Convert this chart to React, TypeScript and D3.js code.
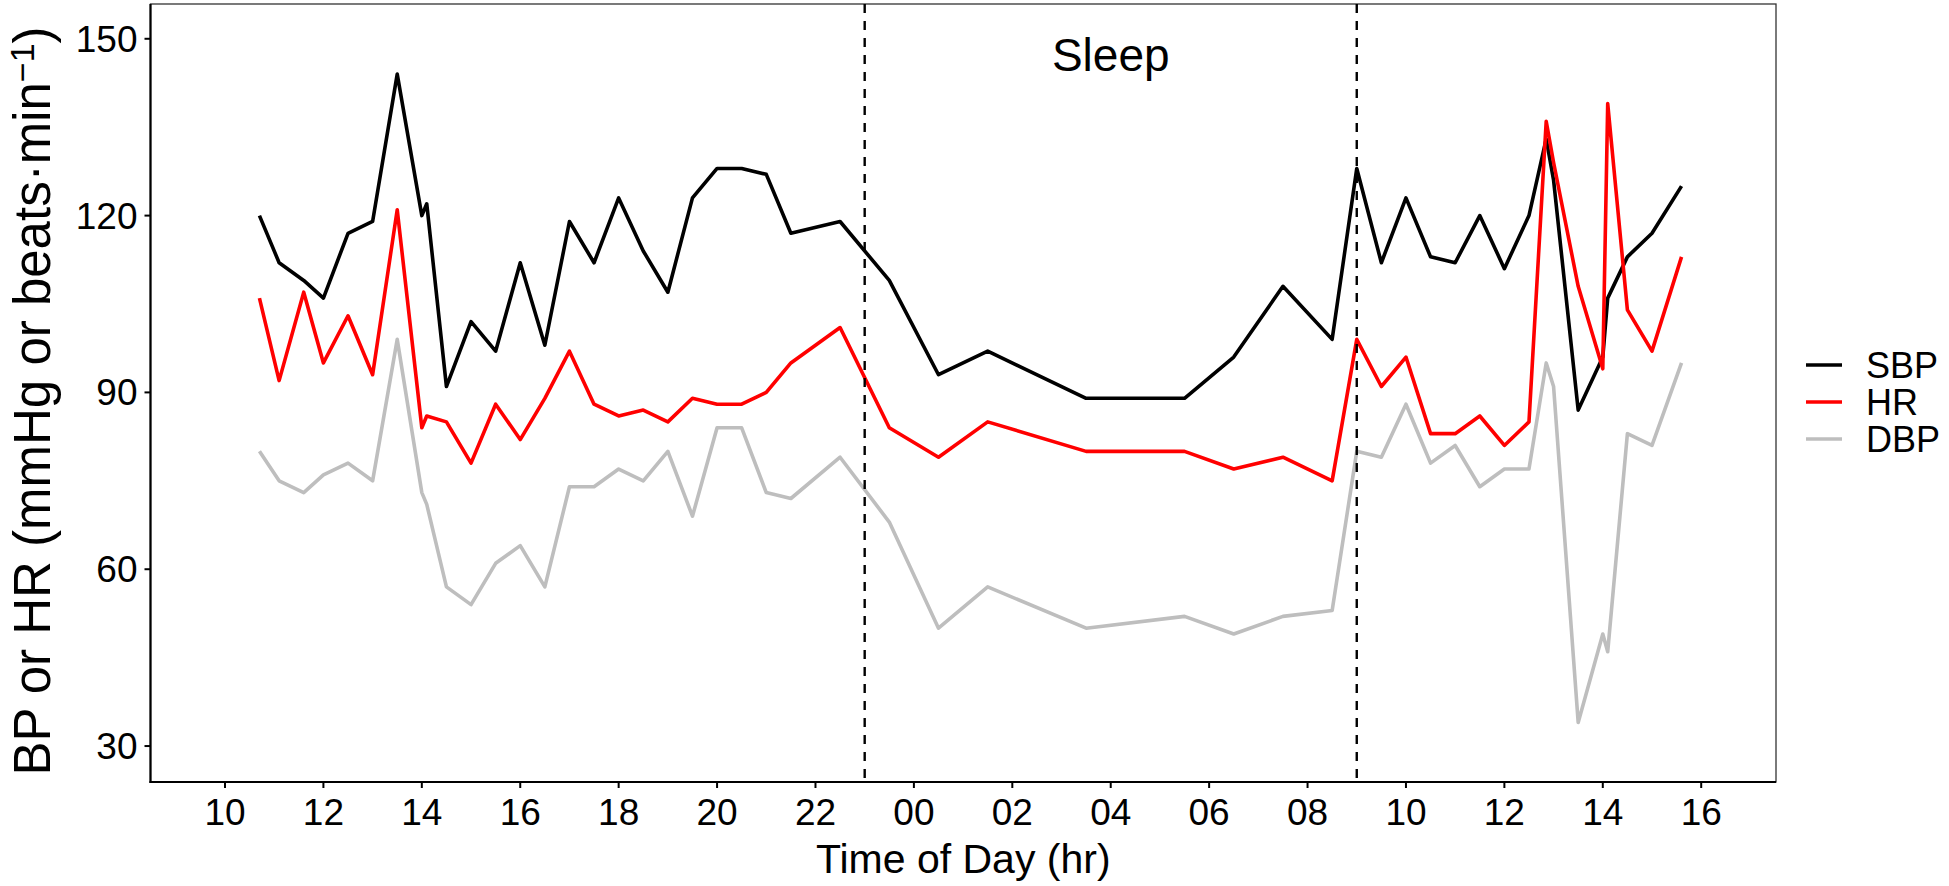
import React from 'react'
import * as d3 from 'd3'

// hours since midnight of day 1 (24+ = next day)
const times = [
  10.7, 11.1, 11.6, 12.0, 12.5, 13.0, 13.5, 14.0, 14.1, 14.5, 15.0, 15.5, 16.0, 16.5, 17.0, 17.5,
  18.0, 18.5, 19.0, 19.5, 20.0, 20.5, 21.0, 21.5, 22.5, 23.5, 24.5, 25.5, 27.5, 29.5, 30.5, 31.5,
  32.5, 33.0, 33.5, 34.0, 34.5, 35.0, 35.5, 36.0, 36.5, 36.85, 37.0, 37.5, 38.0, 38.1, 38.5, 39.0,
  39.6,
]
const sbp = [
  120, 112, 109, 106, 117, 119, 144, 120, 122, 91, 102, 97, 112, 98, 119, 112,
  123, 114, 107, 123, 128, 128, 127, 117, 119, 109, 93, 97, 89, 89, 96, 108,
  99, 128, 112, 123, 113, 112, 120, 111, 120, 133, 126, 87, 96, 106, 113, 117,
  125,
]
const hr = [
  106, 92, 107, 95, 103, 93, 121, 84, 86, 85, 78, 88, 82, 89, 97, 88,
  86, 87, 85, 89, 88, 88, 90, 95, 101, 84, 79, 85, 80, 80, 77, 79,
  75, 99, 91, 96, 83, 83, 86, 81, 85, 136, 129, 108, 94, 139, 104, 97,
  113,
]
const dbp = [
  80, 75, 73, 76, 78, 75, 99, 73, 71, 57, 54, 61, 64, 57, 74, 74,
  77, 75, 80, 69, 84, 84, 73, 72, 79, 68, 50, 57, 50, 52, 49, 52,
  53, 80, 79, 88, 78, 81, 74, 77, 77, 95, 91, 34, 49, 46, 83, 81,
  95,
]

const seriesNames = ['SBP', 'HR', 'DBP']
const seriesColors = ['#000000', '#ff0000', '#bebebe']
const seriesValues = [sbp, hr, dbp]

const xTicks = [10, 12, 14, 16, 18, 20, 22, 24, 26, 28, 30, 32, 34, 36, 38, 40]
const xTickLabels = ['10', '12', '14', '16', '18', '20', '22', '00', '02', '04', '06', '08', '10', '12', '14', '16']
const yTicks = [30, 60, 90, 120, 150]
const sleepBounds = [23, 33]

const W = 1949
const H = 886
const left = 150.5
const right = 1776
const top = 4
const bottom = 782
const font = '"Liberation Sans", Arial, sans-serif'

export default function App() {
  const x = d3.scaleLinear().domain([8.486, 41.52]).range([left, right])
  const y = d3.scaleLinear().domain([23.9, 155.9]).range([bottom, top])

  const line = d3
    .line<number>()
    .x((_, i) => x(times[i]))
    .y(d => y(d))

  return (
    <svg
      width={W}
      height={H}
      style={{ position: 'absolute', left: 0, top: 0, background: '#fff' }}
      fontFamily={font}
    >
      <rect x={left} y={top} width={right - left} height={bottom - top} fill="#fff" stroke="#333" strokeWidth={1.3} />

      {seriesValues.map((vals, k) => (
        <path
          key={seriesNames[k]}
          d={line(vals) ?? ''}
          fill="none"
          stroke={seriesColors[k]}
          strokeWidth={3.6}
          strokeLinejoin="round"
        />
      ))}

      {sleepBounds.map(h => (
        <line
          key={h}
          x1={x(h)}
          x2={x(h)}
          y1={top}
          y2={bottom}
          stroke="#000"
          strokeWidth={2.4}
          strokeDasharray="9 8"
        />
      ))}

      <text x={x(28)} y={y(144.6)} fontSize={46} textAnchor="middle" fill="#000">
        Sleep
      </text>

      {/* axes */}
      <line x1={left} x2={left} y1={top} y2={bottom + 1} stroke="#000" strokeWidth={2.2} />
      <line x1={left - 1} x2={right} y1={bottom} y2={bottom} stroke="#000" strokeWidth={2.2} />

      {yTicks.map(t => (
        <g key={t}>
          <line x1={left - 6} x2={left} y1={y(t)} y2={y(t)} stroke="#000" strokeWidth={2} />
          <text x={left - 13} y={y(t)} dy="0.35em" fontSize={37} textAnchor="end" fill="#000">
            {t}
          </text>
        </g>
      ))}

      {xTicks.map((t, i) => (
        <g key={t}>
          <line x1={x(t)} x2={x(t)} y1={bottom} y2={bottom + 6} stroke="#000" strokeWidth={2} />
          <text x={x(t)} y={825} fontSize={37} textAnchor="middle" fill="#000">
            {xTickLabels[i]}
          </text>
        </g>
      ))}

      <text x={(left + right) / 2} y={873} fontSize={41} textAnchor="middle" fill="#000">
        Time of Day (hr)
      </text>

      <text
        transform="translate(50,401) rotate(-90)"
        fontSize={51}
        textAnchor="middle"
        fill="#000"
      >
        BP or HR (mmHg or beats·min
        <tspan fontSize={34} dy={-16}>−1</tspan>
        <tspan dy={16}>)</tspan>
      </text>

      {/* legend */}
      {seriesNames.map((name, k) => (
        <g key={name} transform={`translate(0,${365 + k * 37})`}>
          <line x1={1806} x2={1842} y1={0} y2={0} stroke={seriesColors[k]} strokeWidth={3.6} />
          <text x={1866} y={0} dy="0.35em" fontSize={36} fill="#000">
            {name}
          </text>
        </g>
      ))}
    </svg>
  )
}
